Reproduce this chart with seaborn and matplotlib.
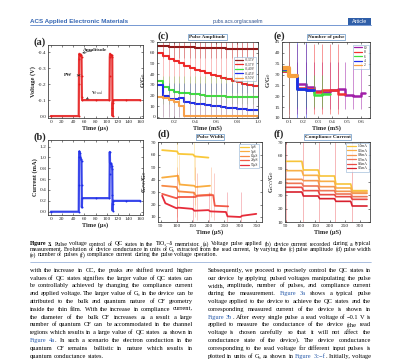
import re
import numpy as np
import pandas as pd
import matplotlib
matplotlib.use("Agg")
import matplotlib.pyplot as plt
import seaborn as sns

# ---------------- data ----------------
a_time = [0, 50, 50.3, 50.6, 51, 52, 53, 54, 55, 55.3, 55.6, 56, 80, 105, 105.3, 105.6,
          106, 107, 108, 109, 110, 110.3, 110.6, 111, 112, 135, 160]
a_volt = [0.0, 0.0, -0.2, -0.36, -0.39, -0.385, -0.38, -0.385, -0.37, -0.25, -0.12, -0.1, -0.1,
          -0.1, -0.25, -0.37, -0.39, -0.385, -0.38, -0.38, -0.37, -0.05, 0.0, -0.08, -0.1, -0.1, -0.1]
b_time = [0, 50, 50.3, 50.6, 51, 52, 53, 54, 55, 55.3, 55.6, 56, 80, 105, 105.3, 105.6,
          106, 107, 108, 109, 110, 110.3, 110.6, 111, 112, 135, 160]
b_curr = [0.0, 0.0, 0.5, 1.0, 1.11, 1.08, 1.0, 0.97, 0.93, 0.5, 0.08, 0.25, 0.25, 0.25, 0.7,
          1.1, 0.9, 0.89, 0.87, 0.84, 0.78, 0.3, 0.02, 0.15, 0.2, 0.2, 0.2]

c_edges = [0.05, 0.10, 0.15, 0.20, 0.25, 0.30, 0.35, 0.40, 0.45, 0.50, 0.55, 0.60,
           0.65, 0.70, 0.75, 0.80, 0.85, 0.90, 0.95, 1.00]
c_labels = ["-0.35V", "-0.37V", "-0.40V", "-0.45V", "-0.50V"]
c_035 = [66, 66, 65.5, 65.5, 65, 65, 65, 64.5, 64.5, 64.5, 64, 64, 64, 63.5, 63.5, 63.5, 63, 63, 63]
c_037 = [60, 57, 54, 52, 50, 48, 46, 44, 42.5, 41, 39.5, 38, 36.5, 35, 34, 32.5, 31, 30, 29]
c_040 = [34, 28, 25, 23, 22, 22, 21, 21, 20.5, 20, 20, 19.5, 19.5, 19, 19, 18.5, 18.5, 18.5, 18.5]
c_045 = [30, 20, 17, 17, 17.5, 14, 13, 12.5, 12, 11, 10.5, 10, 9, 8.5, 8, 7.5, 7, 6.5, 6.5]
c_050 = [19, 18, 16, 14, 10, 0.5, 0.5, 0.5, 0.5, 0.5, 0.5, 0.5, 0.5, 0.5, 0.5, 0.5, 0.5, 0.5, 0.5]
c_spike_lo = [55, 22, 12, 0, 0]
c_spike_hi = [70, 70, 38, 32, 22]

e_edges = [0.05, 0.10, 0.155, 0.215, 0.27, 0.325, 0.38, 0.435, 0.49, 0.545, 0.60, 0.625]
e_labels = ["10", "8", "6", "4", "2"]
e_10 = [31.5, 29.5, 25.5, 24.5, 22.5, 22, 23, 23.5, 20.5, 20, 21.5]
e_8 = [31.5, 29.5, 24, 23.5, 22, 23, 23, 21]
e_6 = [32, 29.5, 23.5, 23, 20.5, 21]
e_4 = [32.5, 30, 23.5, 23]
e_2 = [33, 29.5]
e_spike_lo = [14, 12, 15, 10, 10]
e_spike_hi = [36, 44, 30, 45, 45]

d_labels = ["1μS", "5μS", "10μS", "20μS", "50μS"]
d_1_t = [55, 102, 106, 152, 157, 200]
d_1_g = [63.5, 62.5, 60.5, 60, 58.5, 57.5]
d_5_t = [55, 105, 110, 155, 160, 205]
d_5_g = [41.5, 43, 36, 35, 34, 35]
d_10_t = [55, 100, 106, 155, 160, 210]
d_10_g = [35, 34, 30.5, 29.5, 27, 28]
d_20_t = [55, 100, 106, 160, 165, 215, 220, 262]
d_20_g = [28.5, 25, 26, 26, 27, 27.5, 19, 18.5]
d_50_t = [55, 65, 100, 106, 150, 156, 200, 206, 255, 260, 300, 306, 350]
d_50_g = [27, 21, 17, 17.5, 16.5, 15, 15.5, 14.5, 14, 10.5, 10, 11, 12.5]
d_spikes = [[102, 155], [108, 158], [103, 158, 208], [103, 163, 218], [103, 153, 203, 258, 303]]
d_spike_lo = [40, 20, 10, 8, 6]
d_spike_hi = [70, 60, 50, 45, 30]

f_starts = [52, 110, 165, 220, 275]
f_ends = [105, 160, 215, 270, 325]
f_labels = ["1.0mA", "0.9mA", "0.8mA", "0.7mA", "0.6mA", "0.5mA"]
f_10 = [55.5, 49, 44.5, 38.5, 33.5]
f_09 = [48.5, 45, 40.5, 35.5, 32.5]
f_08 = [42, 41, 36.5, 33, 31.5]
f_07 = [39, 37, 33.5, 31, 29]
f_06 = [36, 33.5, 30.5, 29, 27]
f_05 = [32.5, 29.5, 27.5, 25.5, 22]
f_spikes = [52, 108, 163, 218, 273]

# ---------------- page text ----------------
header_left = "ACS Applied Electronic Materials"
header_mid = "pubs.acs.org/acsaelm"
header_right = "Article"
caption_lines = [
    "*Figure* *3.* Pulse voltage control of QC states in the TiO₂₋δ memristor. (a) Voltage pulse applied (b) device current recorded during a typical",
    "measurement. Evolution of device conductance in units of G₀ extracted from the read current, by varying the (c) pulse amplitude (d) pulse width",
    "(e) number of pulses (f) compliance current during the pulse voltage operation.",
]
left_lines = [
    "with the increase in CC, the peaks are shifted toward higher",
    "values of QC states signifies the larger value of QC states can",
    "be controllably achieved by changing the compliance current",
    "and applied voltage. The larger value of G₀ in the device can be",
    "attributed to the bulk and quantum nature of CF geometry",
    "inside the thin film. With the increase in compliance current,",
    "the diameter of the bulk CF increases as a result a large",
    "number of quantum CF can be accommodated in the channel",
    "regions which results in a large value of QC states as shown in",
    "{Figure} {4a}. In such a scenario the electron conduction in the",
    "quantum CF remains ballistic in nature which results in",
    "quantum conductance states.",
]
right_lines = [
    "Subsequently, we proceed to precisely control the QC states in",
    "our device by applying pulsed voltages manipulating the pulse",
    "width, amplitude, number of pulses, and compliance current",
    "during the measurement. {Figure} {3a} shows a typical pulse",
    "voltage applied to the device to achieve the QC states and the",
    "corresponding measured current of the device is shown in",
    "{Figure} {3b}. After every single pulse a read voltage of −0.1 V is",
    "applied to measure the conductance of the device (the read",
    "voltage is chosen carefully so that it will not affect the",
    "conductance state of the device). The device conductance",
    "corresponding to the read voltage for different input pulses is",
    "plotted in units of G₀ as shown in {Figure} {3c−f}. Initially, voltage",
]

# ---------------- setup ----------------
sns.set_style("ticks")
SERIF = ['Liberation Serif', 'DejaVu Serif']
SANS = ['Liberation Sans', 'DejaVu Sans']
plt.rcParams['font.family'] = SERIF
plt.rcParams['mathtext.fontset'] = 'stix'
W, H = 400, 360
fig = plt.figure(figsize=(4, 3.6), dpi=100)
renderer = fig.canvas.get_renderer()
LINK = '#2a5caa'
INK = '#000000'


def fx(px):
    return px / W


def fy(py):
    return 1 - py / H


def measure(s, size, weight='normal', family=None):
    t = fig.text(0, 0, s, fontsize=size, fontweight=weight,
                 family=family if family else SERIF)
    w = t.get_window_extent(renderer).width
    t.remove()
    return w


def fit(s, width, weight='normal', family=None):
    return 10.0 * width / measure(s, 10.0, weight, family)


# font sizes fitted to widths
TICK = fit('-0.4', 8.5)
LAB = fit('Voltage (V)', 31, 'bold')
LEG = fit('-0.35V', 10)
TTL = fit('Pulse Amplitude', 36, 'bold')
LET = fit('(a)', 12, 'bold')
ANN = fit('Amplitude', 24, 'bold')


def add_axes(l, t, r, b):
    return fig.add_axes([fx(l), fy(b), (r - l) / W, (b - t) / H])


def style(ax, xlabel, ylabel):
    ax.tick_params(direction='in', length=1.5, width=0.4, labelsize=TICK, pad=1.2,
                   top=True, right=True)
    for s in ax.spines.values():
        s.set_linewidth(0.55)
        s.set_color('#333333')
    ax.set_xlabel(xlabel, fontsize=LAB, labelpad=0.8, fontweight='bold')
    ax.set_ylabel(ylabel, fontsize=LAB, labelpad=1.0, fontweight='bold')


def line(ax, x, y, color, lw, **kw):
    sns.lineplot(x=x, y=y, ax=ax, color=color, lw=lw, sort=False, estimator=None,
                 legend=False, **kw)
    return ax.lines[-1]


def step_xy(starts, ends, levels):
    xs, ys = [], []
    for s, e, v in zip(starts, ends, levels):
        xs += [s, e]
        ys += [v, v]
    return xs, ys


def title_box(ax, text):
    ax.text(0.5, 1.06, text, transform=ax.transAxes, ha='center', va='center',
            fontsize=TTL, fontweight='bold', color='#222222',
            bbox=dict(boxstyle='square,pad=0.2', fc='white', ec='#7fa6cf', lw=0.6))


def legend(ax, handles, labels, anchor):
    lg = ax.legend(handles, labels, loc='upper right', bbox_to_anchor=anchor, fontsize=LEG,
                   frameon=True, fancybox=False, handlelength=2.4, handletextpad=0.5,
                   borderpad=0.3, labelspacing=0.12, borderaxespad=0.0)
    lg.get_frame().set_edgecolor('#8fb0d3')
    lg.get_frame().set_linewidth(0.5)
    for h in lg.legend_handles:
        h.set_linewidth(0.9)
        h.set_alpha(1)


# ---------------- (a) ----------------
ax = add_axes(48, 45, 143, 118)
line(ax, a_time, a_volt, '#f08080', 0.5, marker='o', markersize=1.4,
     markerfacecolor='#e51c1c', markeredgewidth=0)
line(ax, a_time, a_volt, '#e51c1c', 1.6, alpha=0.85)
ax.set_xlim(-5, 165)
ax.set_ylim(0.012, -0.445)
ax.set_xticks([0, 20, 40, 60, 80, 100, 120, 140, 160])
ax.set_yticks([0.0, -0.1, -0.2, -0.3, -0.4])
ax.set_yticklabels(['0.0', '-0.1', '-0.2', '-0.3', '-0.4'])
style(ax, 'Time (μs)', 'Voltage (V)')
ax.annotate('Amplitude', xy=(51.5, -0.39), xytext=(57, -0.415), fontsize=ANN,
            fontweight='bold', va='center',
            arrowprops=dict(arrowstyle='->', lw=0.4, color='#222222'))
ax.text(24, -0.255, 'PW', fontsize=ANN, fontweight='bold', va='center')
ax.annotate('', xy=(48.5, -0.255), xytext=(56, -0.255),
            arrowprops=dict(arrowstyle='<->', lw=0.4, color='#222222', mutation_scale=3))
ax.annotate('V$_{read}$', xy=(63, -0.105), xytext=(72, -0.145), fontsize=ANN,
            fontweight='bold', va='center',
            arrowprops=dict(arrowstyle='->', lw=0.4, color='#222222'))

# ---------------- (b) ----------------
ax = add_axes(48, 140, 143, 215)
line(ax, b_time, b_curr, '#9090f0', 0.5, marker='o', markersize=1.4,
     markerfacecolor='#1f2fe8', markeredgewidth=0)
line(ax, b_time, b_curr, '#1f2fe8', 1.6, alpha=0.85)
ax.set_xlim(-5, 165)
ax.set_ylim(-0.06, 1.32)
ax.set_xticks([0, 20, 40, 60, 80, 100, 120, 140, 160])
ax.set_yticks([0.0, 0.2, 0.4, 0.6, 0.8, 1.0, 1.2])
style(ax, 'Time (μs)', 'Current (mA)')

# ---------------- (c) ----------------
ax = add_axes(157, 42, 258, 118)
c_colors = ['#8b1a1a', '#ee2a2a', '#3ee03e', '#1e2eeb', '#f7a04a']
handles = []
for vals, col, lo, hi in zip([c_035, c_037, c_040, c_045, c_050], c_colors, c_spike_lo, c_spike_hi):
    ax.vlines(c_edges[1:-1], lo, hi, colors=col, lw=0.6, alpha=0.35)
    xs, ys = step_xy(c_edges[:-1], c_edges[1:], vals)
    handles.append(line(ax, xs, ys, col, 1.5))
ax.set_xlim(0.04, 1.0)
ax.set_ylim(-1, 70)
ax.set_xticks([0.2, 0.4, 0.6, 0.8, 1.0])
ax.set_yticks([0, 10, 20, 30, 40, 50, 60, 70])
style(ax, 'Time (mS)', 'G/G$_0$')
legend(ax, handles, c_labels, (0.985, 0.8))
title_box(ax, 'Pulse Amplitude')

# ---------------- (e) ----------------
ax = add_axes(282, 42, 370, 118)
e_colors = ['#a01fa8', '#f03232', '#3ee03e', '#1e2eeb', '#f7a040']
e_widths = [1.8, 1.8, 1.8, 2.0, 3.0]
handles = []
for vals, col, lo, hi, lw in zip([e_10, e_8, e_6, e_4, e_2], e_colors, e_spike_lo, e_spike_hi, e_widths):
    n = len(vals)
    ax.vlines(e_edges[1:n], lo, hi, colors=col, lw=0.7, alpha=0.5)
    xs, ys = step_xy(e_edges[:n], e_edges[1:n + 1], vals)
    handles.append(line(ax, xs, ys, col, lw))
ax.set_xlim(0.05, 0.66)
ax.set_ylim(10, 45)
ax.set_xticks([0.1, 0.2, 0.3, 0.4, 0.5, 0.6])
ax.set_yticks([10, 15, 20, 25, 30, 35, 40, 45])
style(ax, 'Time (mS)', 'G/G$_0$')
legend(ax, handles, e_labels, (0.985, 0.965))
title_box(ax, 'Number of pulse')

# ---------------- (d) ----------------
ax = add_axes(158, 142, 262, 222)
d_colors = ['#f9c83a', '#f9ad40', '#f78a45', '#f25a48', '#e62c3a']
handles = []
series = [(d_1_t, d_1_g), (d_5_t, d_5_g), (d_10_t, d_10_g), (d_20_t, d_20_g), (d_50_t, d_50_g)]
for (t, g), col, sp, lo, hi in zip(series, d_colors, d_spikes, d_spike_lo, d_spike_hi):
    ax.vlines(sp, lo, hi, colors=col, lw=0.6, alpha=0.35)
    handles.append(line(ax, t, g, col, 1.3))
ax.set_xlim(42, 368)
ax.set_ylim(6, 70)
ax.set_xticks([50, 100, 150, 200, 250, 300, 350])
ax.set_yticks([10, 20, 30, 40, 50, 60, 70])
style(ax, 'Time (μS)', 'G$_{PW}$/G$_0$')
legend(ax, handles, d_labels, (0.975, 0.975))
title_box(ax, 'Pulse Width')

# ---------------- (f) ----------------
ax = add_axes(285, 142, 370, 222)
f_colors = ['#f7c43a', '#f8b048', '#f49650', '#ee7656', '#e84b45', '#d8202e']
ax.vlines(f_spikes, 10, 70, colors='#e84b50', lw=0.7, alpha=0.4)
handles = []
for vals, col in zip([f_10, f_09, f_08, f_07, f_06, f_05], f_colors):
    xs, ys = step_xy(f_starts, f_ends, vals)
    handles.append(line(ax, xs, ys, col, 1.2))
ax.set_xlim(48, 335)
ax.set_ylim(10, 70)
ax.set_xticks([50, 100, 150, 200, 250, 300])
ax.set_yticks([10, 20, 30, 40, 50, 60, 70])
style(ax, 'Time (μS)', 'G$_{CC}$/G$_0$')
legend(ax, handles, f_labels, (0.985, 0.985))
title_box(ax, 'Compliance Current')

# panel letters
for lab, x, y in [('(a)', 34, 42), ('(b)', 34, 137), ('(c)', 157, 36), ('(d)', 157, 134),
                  ('(e)', 273, 36), ('(f)', 273, 134)]:
    fig.text(fx(x), fy(y), lab, fontsize=LET, fontweight='bold', va='center', ha='left')

# ---------------- header ----------------
fig.text(fx(29.5), fy(21.5), header_left, fontsize=fit(header_left, 98, 'bold', SANS),
         fontweight='bold', color='#3566b3', family=SANS, va='center', ha='left')
fig.text(fx(237.5), fy(22), header_mid, fontsize=fit(header_mid, 50, 'normal', SANS),
         color='#2c4f8c', family=SANS, va='center', ha='center')
fig.patches.append(plt.Rectangle((fx(347.5), fy(25.3)), 23.5 / W, 7 / H, transform=fig.transFigure,
                                 fc='#2f5ea8', ec='none'))
fig.text(fx(359.3), fy(21.8), header_right, fontsize=fit(header_right, 15, 'normal', SANS),
         color='white', family=SANS, va='center', ha='center')
fig.add_artist(plt.Line2D([fx(29.5), fx(371)], [fy(24.8), fy(24.8)], color='#3f70c0', lw=0.5))
fig.add_artist(plt.Line2D([fx(29.5), fx(371)], [fy(261.5), fy(261.5)], color='#6b8fc8', lw=0.4))


# ---------------- justified text ----------------
def parse_token(tok):
    parts = []
    for p in re.split(r'(\{[^}]*\}|\*[^*]*\*)', tok):
        if not p:
            continue
        if p.startswith('{'):
            parts.append((p[1:-1], LINK, 'normal'))
        elif p.startswith('*'):
            parts.append((p[1:-1], INK, 'bold'))
        else:
            parts.append((p, INK, 'normal'))
    return parts


def space_w(size):
    return measure('a a', size) - measure('aa', size)


def natural(text, size):
    toks = [parse_token(t) for t in text.split(' ')]
    total = sum(measure(s, size, w) for parts in toks for s, c, w in parts)
    return total + space_w(size) * (len(toks) - 1)


def block_size(lines, width):
    return 10.0 * width / max(natural(l, 10.0) for l in lines)


def draw_line(text, x0, x1, yb, size, justify):
    toks = [parse_token(t) for t in text.split(' ')]
    widths = [[measure(s, size, w) for s, c, w in parts] for parts in toks]
    total = sum(sum(w) for w in widths)
    space = space_w(size)
    if justify and len(toks) > 1:
        gap = (x1 - x0 - total) / (len(toks) - 1)
    else:
        gap = space
    x = x0
    for parts, ws in zip(toks, widths):
        for (s, c, w), wd in zip(parts, ws):
            fig.text(fx(x), fy(yb), s, fontsize=size, color=c, fontweight=w,
                     va='baseline', ha='left')
            x += wd
        x += gap


CAP = block_size(caption_lines[:2], 339.0)
BODY = min(block_size(left_lines[:-1], 162.0), block_size(right_lines, 162.0))

for i, ln in enumerate(caption_lines):
    draw_line(ln, 29.5, 371, 245.5 + i * 5.4, CAP, i < len(caption_lines) - 1)
for i, ln in enumerate(left_lines):
    draw_line(ln, 29.5, 193, 271.8 + i * 7.8, BODY, i < len(left_lines) - 1)
for i, ln in enumerate(right_lines):
    draw_line(ln, 207.5, 371, 271.8 + i * 7.8, BODY, True)

fig.savefig('out.png', dpi=100, facecolor='white')
